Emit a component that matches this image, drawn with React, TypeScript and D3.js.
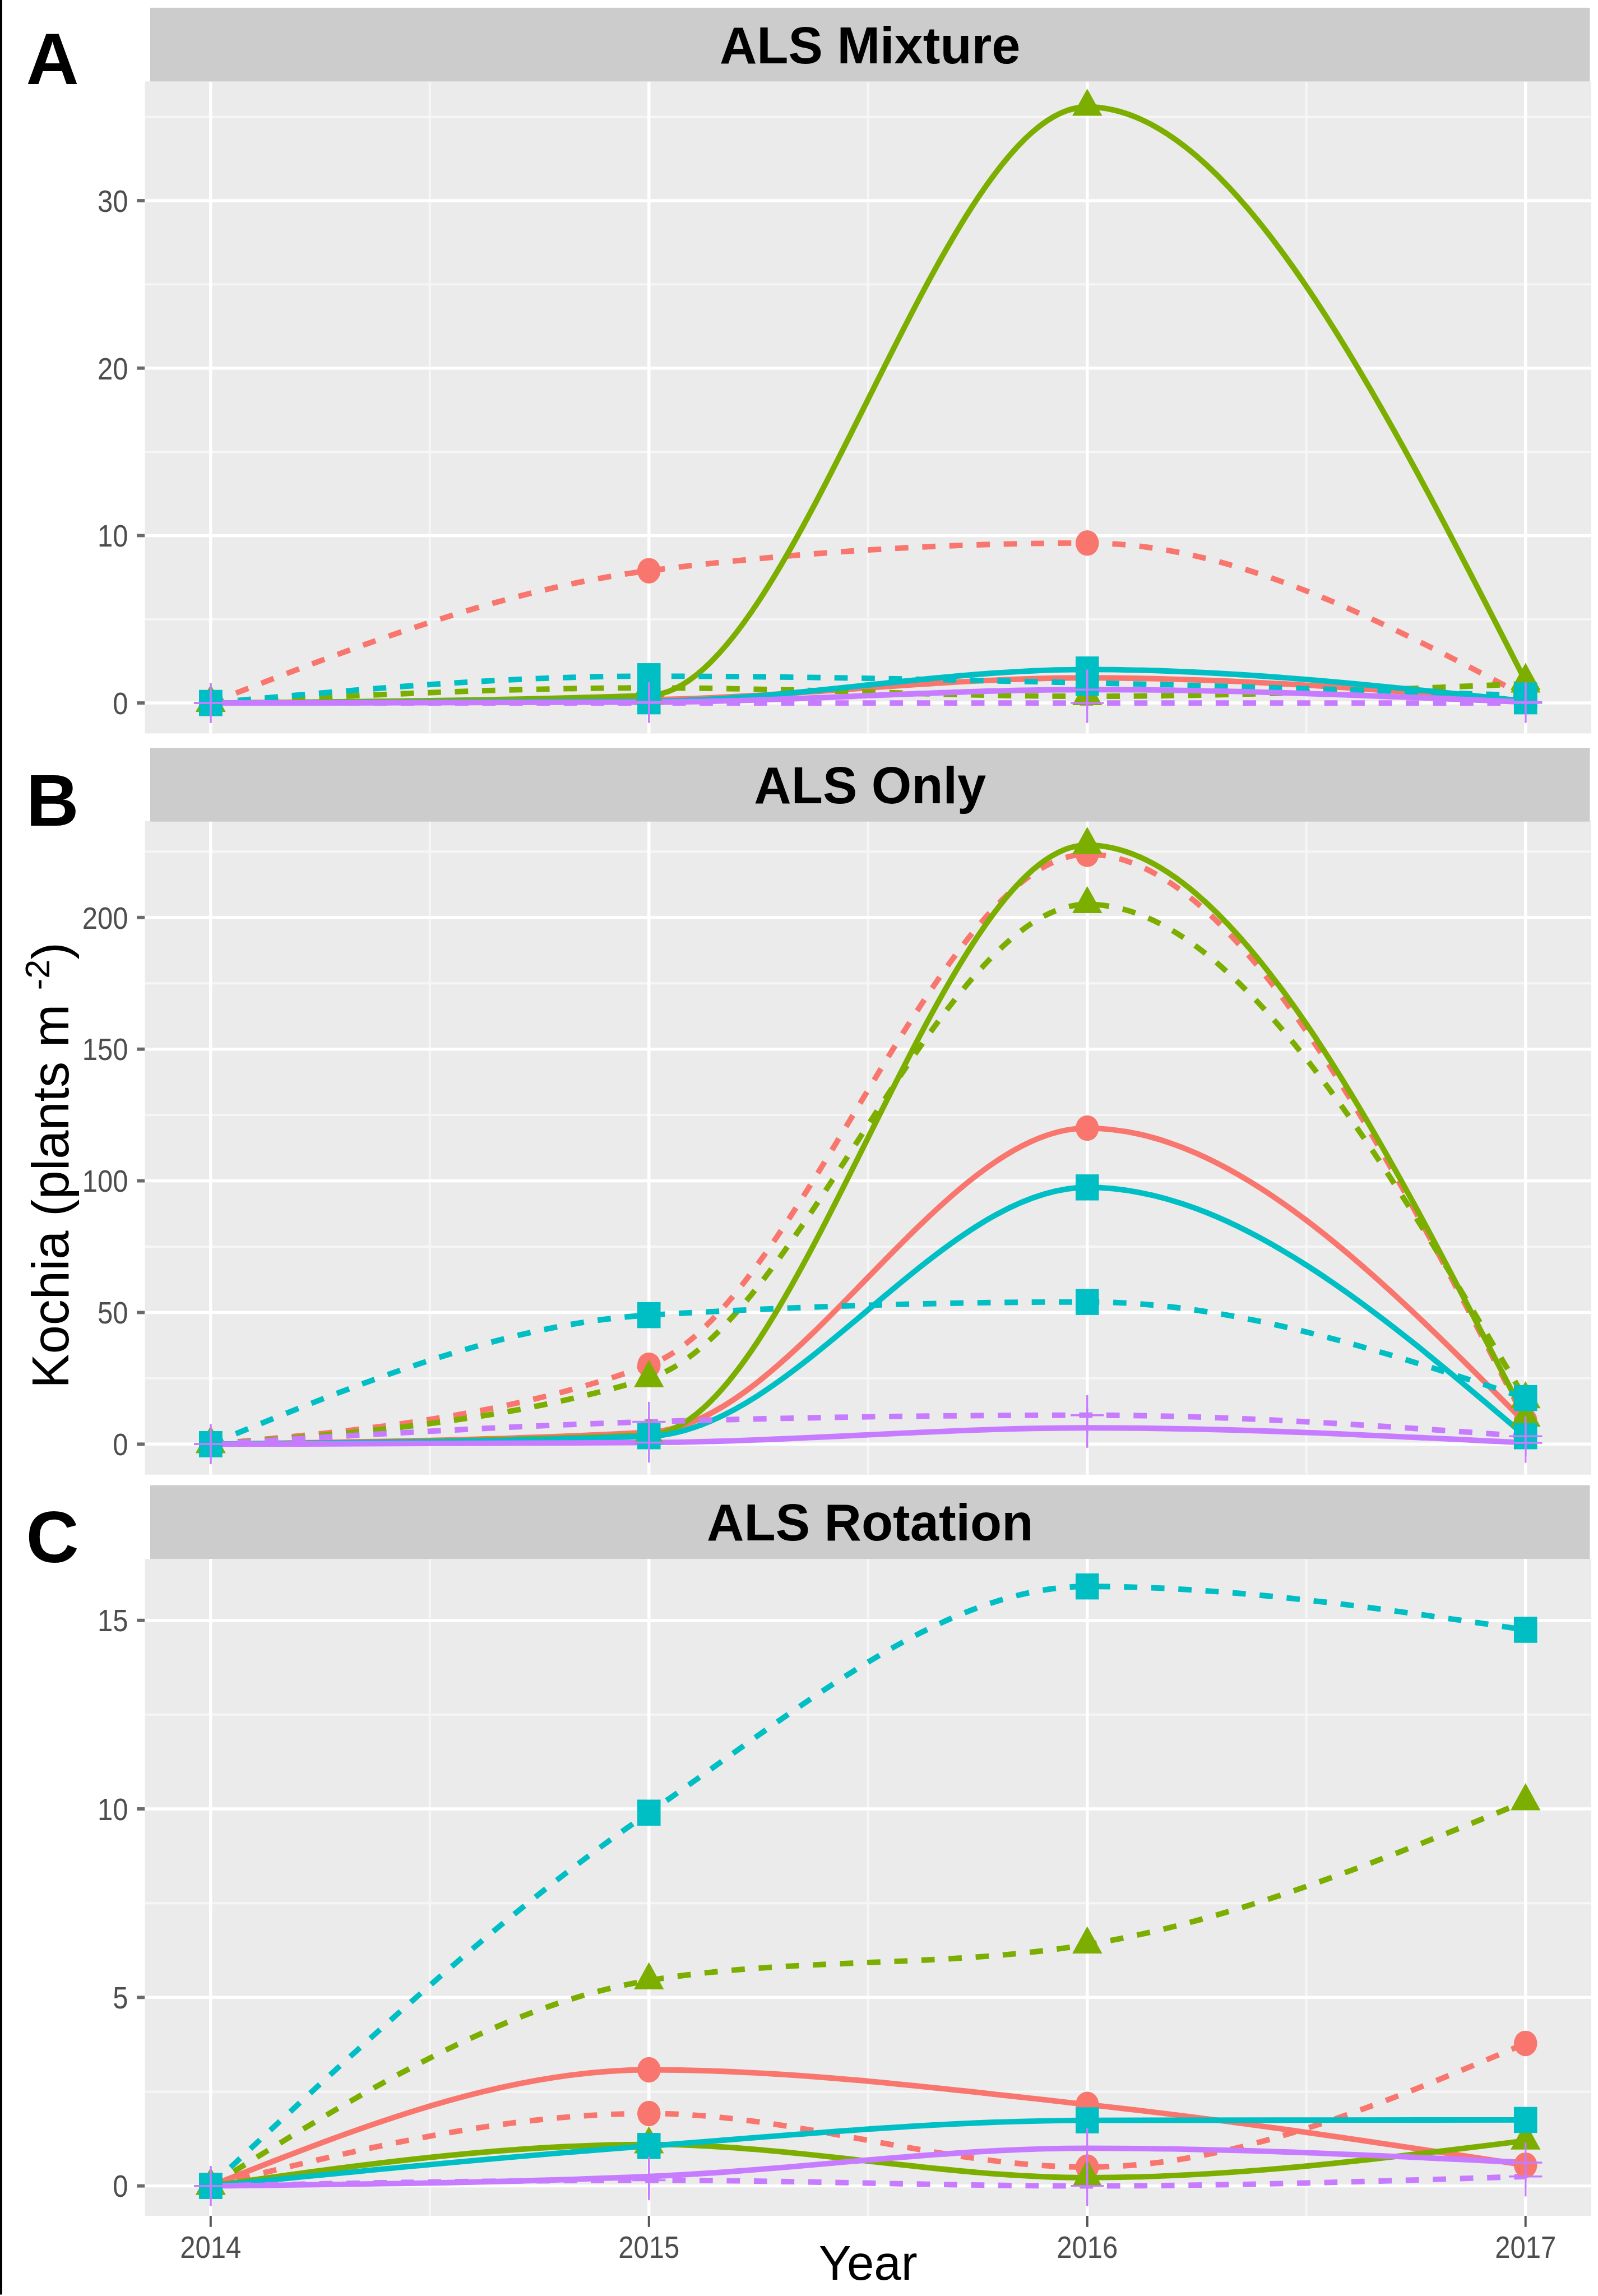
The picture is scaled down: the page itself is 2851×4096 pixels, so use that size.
import React from 'react';
import * as d3 from 'd3';

// years on the x axis
const years = [2014, 2015, 2016, 2017];
const minorYears = [2014.5, 2015.5, 2016.5];

// series order: red (circle), green (triangle), cyan (square), purple (plus)
const colors = ['#F8766D', '#7CAE00', '#00BFC4', '#C77CFF'];
const shapes = ['circle', 'triangle', 'square', 'plus'];

// A: ALS Mixture
const mixtureSolid = [
  [0, 0.2, 1.5, 0.1],
  [0, 0.45, 35.6, 1.3],
  [0, 0.1, 2.0, 0.1],
  [0, 0.05, 0.8, 0.05],
];
const mixtureDashed = [
  [0, 7.9, 9.55, 0.4],
  [0, 0.9, 0.4, 1.15],
  [0, 1.6, 1.2, 0.45],
  [0, 0.0, 0.0, 0.0],
];

// B: ALS Only
const onlySolid = [
  [0, 4.5, 120, 8],
  [0, 3.5, 227.5, 10],
  [0, 3, 97.5, 3],
  [0, 0.6, 6.2, 0.5],
];
const onlyDashed = [
  [0, 30, 224, 9],
  [0, 25, 205, 17],
  [0, 49, 54, 17.5],
  [0, 8.5, 11, 3],
];

// C: ALS Rotation
const rotationSolid = [
  [0, 3.08, 2.16, 0.55],
  [0, 1.1, 0.22, 1.2],
  [0, 1.06, 1.74, 1.75],
  [0, 0.25, 1.0, 0.62],
];
const rotationDashed = [
  [0, 1.92, 0.5, 3.78],
  [0, 5.45, 6.4, 10.2],
  [0, 9.9, 15.9, 14.75],
  [0, 0.15, 0.0, 0.25],
];

const mixtureTicks = [0, 10, 20, 30];
const mixtureMinor = [5, 15, 25, 35];
const onlyTicks = [0, 50, 100, 150, 200];
const onlyMinor = [25, 75, 125, 175, 225];
const rotationTicks = [0, 5, 10, 15];
const rotationMinor = [2.5, 7.5, 12.5];

const FONT = "'Liberation Sans', Arial, Helvetica, sans-serif";
const X0 = 261.4;
const X1 = 2870.6;

const panels = [
  { letter: 'A', title: 'ALS Mixture', stripTop: 14, top: 147, bottom: 1323, domain: [-1.82, 37.12],
    ticks: mixtureTicks, minor: mixtureMinor, solid: mixtureSolid, dashed: mixtureDashed, letterY: 152 },
  { letter: 'B', title: 'ALS Only', stripTop: 1349, top: 1481, bottom: 2660, domain: [-11.58, 236.63],
    ticks: onlyTicks, minor: onlyMinor, solid: onlySolid, dashed: onlyDashed, letterY: 1489 },
  { letter: 'C', title: 'ALS Rotation', stripTop: 2679, top: 2812, bottom: 3997, domain: [-0.794, 16.63],
    ticks: rotationTicks, minor: rotationMinor, solid: rotationSolid, dashed: rotationDashed, letterY: 2818 },
];

const x = d3.scaleLinear().domain([2013.85, 2017.15]).range([X0, X1]);

function Marker({ shape, cx, cy, color }) {
  if (shape === 'circle') return <ellipse cx={cx} cy={cy} rx={21} ry={23} fill={color} />;
  if (shape === 'triangle')
    return <path d={`M${cx},${cy - 33}L${cx + 27},${cy + 16}L${cx - 27},${cy + 16}Z`} fill={color} />;
  if (shape === 'square') return <rect x={cx - 21} y={cy - 23.5} width={42} height={47} fill={color} />;
  return (
    <g stroke={color} strokeWidth={3.5}>
      <line x1={cx} x2={cx} y1={cy - 36} y2={cy + 36} />
      <line x1={cx - 30} x2={cx + 30} y1={cy} y2={cy} />
    </g>
  );
}

function Panel({ p }) {
  const y = d3.scaleLinear().domain(p.domain).range([p.bottom, p.top]);
  const line = d3.line<number>()
    .x((d, i) => x(years[i]))
    .y(d => y(d))
    .curve(d3.curveMonotoneX);

  return (
    <g>
      <rect x={X0} y={p.top} width={X1 - X0} height={p.bottom - p.top} fill="#EBEBEB" />
      {p.minor.map(v => (
        <line key={'hm' + v} x1={X0} x2={X1} y1={y(v)} y2={y(v)} stroke="#F6F6F6" strokeWidth={4} />
      ))}
      {minorYears.map(v => (
        <line key={'vm' + v} x1={x(v)} x2={x(v)} y1={p.top} y2={p.bottom} stroke="#F6F6F6" strokeWidth={4} />
      ))}
      {p.ticks.map(v => (
        <line key={'h' + v} x1={X0} x2={X1} y1={y(v)} y2={y(v)} stroke="#FFFFFF" strokeWidth={5.5} />
      ))}
      {years.map(v => (
        <line key={'v' + v} x1={x(v)} x2={x(v)} y1={p.top} y2={p.bottom} stroke="#FFFFFF" strokeWidth={5.5} />
      ))}

      {/* lines */}
      {colors.map((c, i) => (
        <g key={'l' + i}>
          <path d={line(p.solid[i]) || ''} fill="none" stroke={c} strokeWidth={10} />
          <path d={line(p.dashed[i]) || ''} fill="none" stroke={c} strokeWidth={10} strokeDasharray="24 25" />
        </g>
      ))}

      {/* points */}
      {colors.map((c, i) => (
        <g key={'p' + i}>
          {years.map((yr, j) => (
            <g key={yr}>
              <Marker shape={shapes[i]} cx={x(yr)} cy={y(p.solid[i][j])} color={c} />
              <Marker shape={shapes[i]} cx={x(yr)} cy={y(p.dashed[i][j])} color={c} />
            </g>
          ))}
        </g>
      ))}

      {/* y axis */}
      {p.ticks.map(v => (
        <g key={'t' + v}>
          <line x1={247} x2={261} y1={y(v)} y2={y(v)} stroke="#6A6A6A" strokeWidth={6} />
          <text transform={`translate(231,${y(v) + 20}) scale(0.87,1)`} textAnchor="end"
            fontFamily={FONT} fontSize={57} fill="#4D4D4D">{v}</text>
        </g>
      ))}

      {/* strip */}
      <rect x={271} y={p.stripTop} width={2597} height={133} fill="#CCCCCC" />
      <text x={1569.5} y={p.stripTop + 100} textAnchor="middle" fontFamily={FONT} fontWeight="bold"
        fontSize={93} fill="#000">{p.title}</text>

      <text x={47} y={p.letterY} fontFamily={FONT} fontWeight="bold" fontSize={132} fill="#000">{p.letter}</text>
    </g>
  );
}

export default function App() {
  return (
    <svg width={2851} height={4096} style={{ position: 'absolute', left: 0, top: 0, display: 'block', background: '#fff' }}>
      <g transform="scale(0.989)">
        <rect x={0} y={0} width={2881} height={4139} fill="#fff" />
        <rect x={0} y={0} width={4} height={4139} fill="#000" />
        {panels.map(p => <Panel key={p.letter} p={p} />)}

        {/* x axis */}
        {years.map(v => (
          <g key={v}>
            <line x1={x(v)} x2={x(v)} y1={3997} y2={4017} stroke="#555" strokeWidth={4} />
            <text transform={`translate(${x(v)},4073) scale(0.87,1)`} textAnchor="middle"
              fontFamily={FONT} fontSize={57} fill="#4D4D4D">{v}</text>
          </g>
        ))}
        <text x={1566} y={4112} textAnchor="middle" fontFamily={FONT} fontSize={88} fill="#000">Year</text>

        <text transform="translate(123,2102) rotate(-90)" textAnchor="middle" fontFamily={FONT}
          fontSize={93} fill="#000">
          Kochia (plants m <tspan dy={-34} fontSize={62}>-2</tspan><tspan dy={34}>)</tspan>
        </text>
      </g>
    </svg>
  );
}
